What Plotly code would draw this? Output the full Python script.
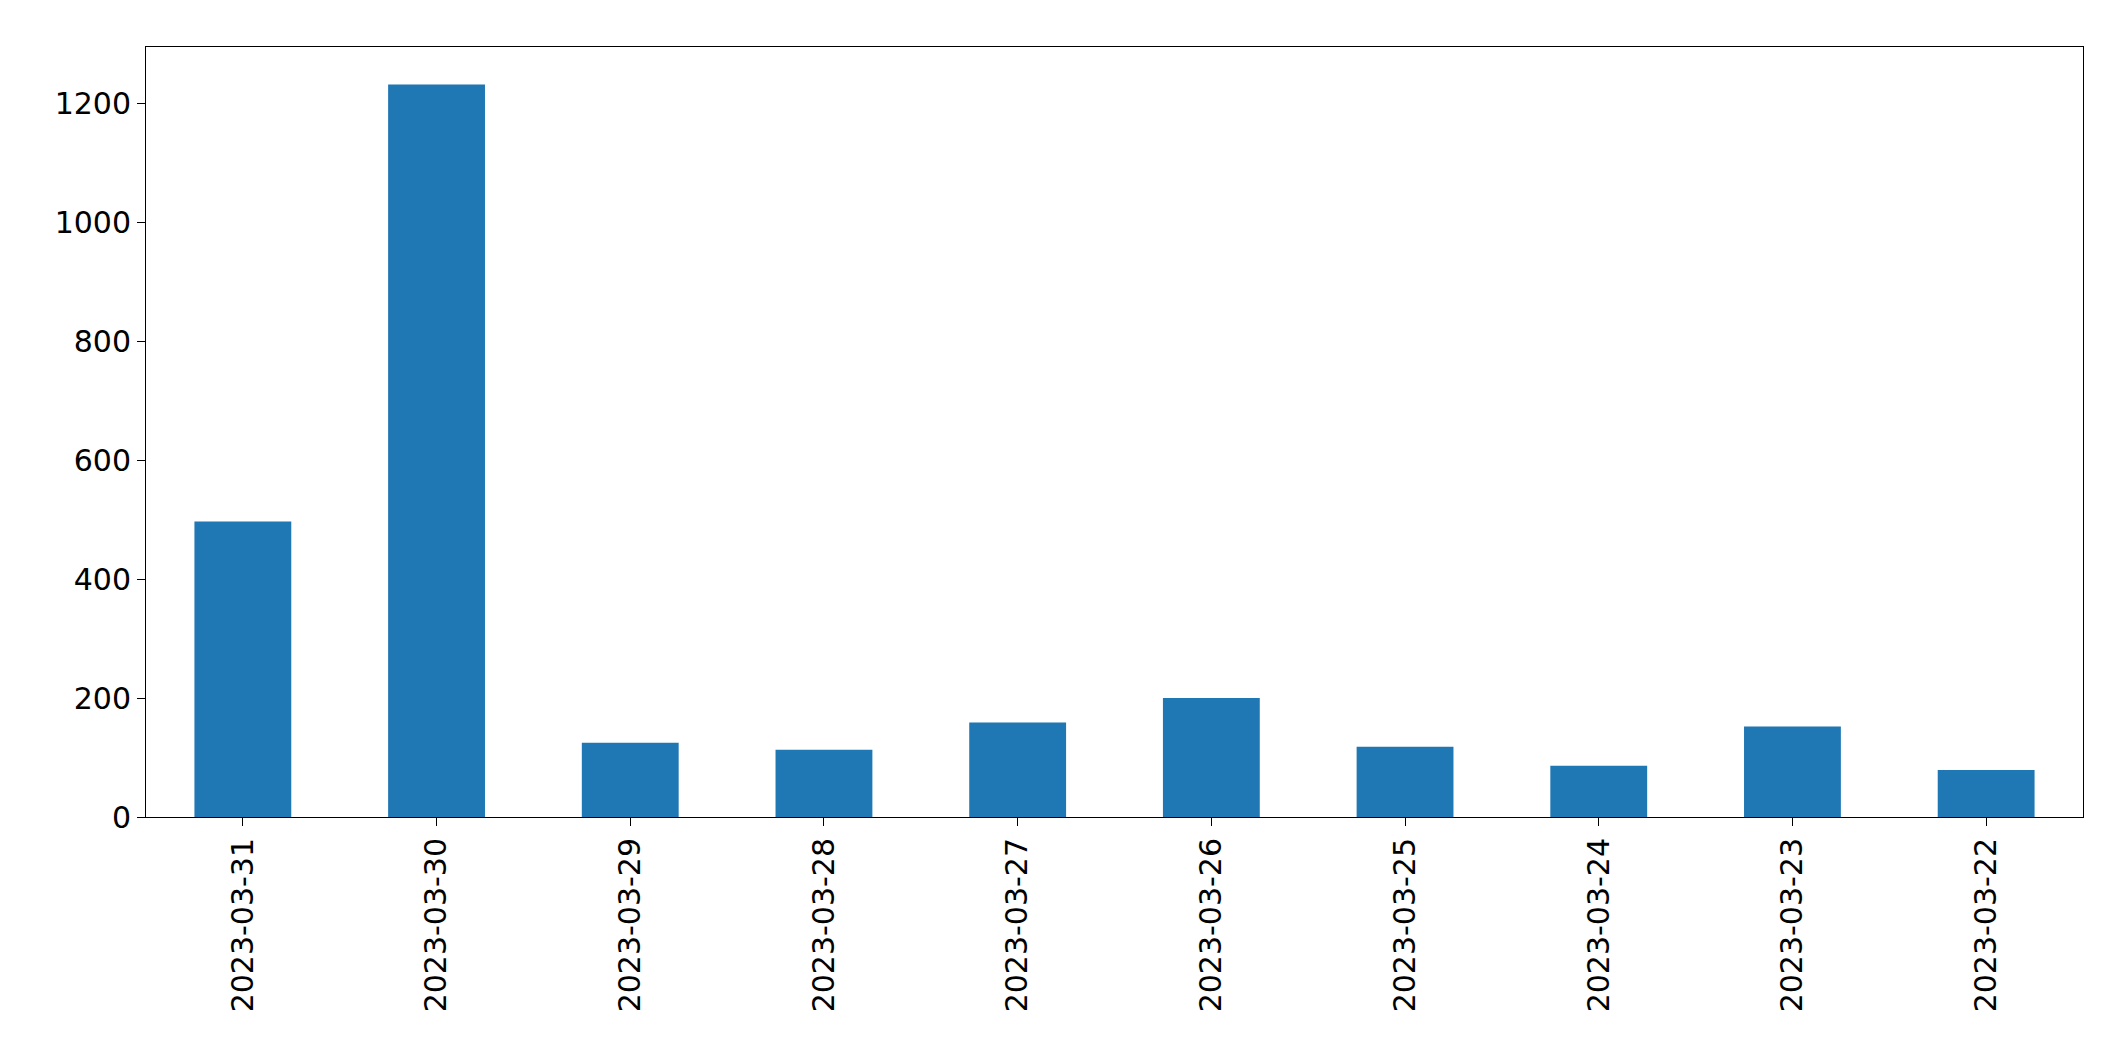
import plotly.graph_objects as go

dates = ["2023-03-31","2023-03-30","2023-03-29","2023-03-28","2023-03-27",
         "2023-03-26","2023-03-25","2023-03-24","2023-03-23","2023-03-22"]
counts = [497, 1232, 125, 113, 159, 200, 118, 86, 152, 79]

fig = go.Figure(go.Bar(x=dates, y=counts, width=0.5, marker_color="#1f77b4", marker_line_width=0))
fig.update_layout(
    width=2115, height=1061, plot_bgcolor="white", paper_bgcolor="white",
    margin=dict(l=138, r=40, t=39, b=252), showlegend=False,
    font=dict(family="DejaVu Sans", size=30, color="black"),
)
fig.update_xaxes(type="category", tickangle=-90, showline=True, linecolor="black", mirror=True,
                 ticks="outside", ticklen=8, tickcolor="black", range=[-0.5, 9.5])
fig.update_yaxes(range=[0, 1295], tickvals=[0,200,400,600,800,1000,1200], showgrid=False,
                 showline=True, linecolor="black", mirror=True, ticks="outside", ticklen=8,
                 tickcolor="black", zeroline=False)
fig.write_html("out.html")
